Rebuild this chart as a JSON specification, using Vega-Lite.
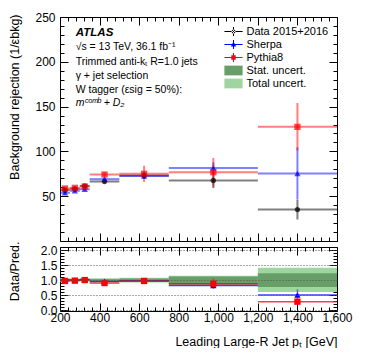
{
  "$schema": "https://vega.github.io/schema/vega-lite/v6.json",
  "padding": {"left": 7, "top": 10, "right": 0, "bottom": 0},
  "background": "white",
  "bounds": "flush",
  "datasets": {
    "main": [
      {"series": "Data 2015+2016", "xc": 225, "x0": 200, "x1": 250, "y": 56.7, "lo": 54.2, "hi": 59.2},
      {"series": "Data 2015+2016", "xc": 275, "x0": 250, "x1": 300, "y": 58.2, "lo": 56.2, "hi": 60.2},
      {"series": "Data 2015+2016", "xc": 325, "x0": 300, "x1": 350, "y": 61.5, "lo": 59.5, "hi": 63.5},
      {"series": "Data 2015+2016", "xc": 425, "x0": 350, "x1": 500, "y": 66.4, "lo": 64.2, "hi": 68.6},
      {"series": "Data 2015+2016", "xc": 625, "x0": 500, "x1": 750, "y": 73.1, "lo": 69.3, "hi": 76.9},
      {"series": "Data 2015+2016", "xc": 975, "x0": 750, "x1": 1200, "y": 67.5, "lo": 59, "hi": 76},
      {"series": "Data 2015+2016", "xc": 1400, "x0": 1200, "x1": 1600, "y": 35.1, "lo": 24, "hi": 46},
      {"series": "Sherpa", "xc": 225, "x0": 200, "x1": 250, "y": 53.7, "lo": 51.8, "hi": 55.6},
      {"series": "Sherpa", "xc": 275, "x0": 250, "x1": 300, "y": 56, "lo": 54.2, "hi": 57.8},
      {"series": "Sherpa", "xc": 325, "x0": 300, "x1": 350, "y": 57.8, "lo": 56, "hi": 59.6},
      {"series": "Sherpa", "xc": 425, "x0": 350, "x1": 500, "y": 69, "lo": 67, "hi": 71},
      {"series": "Sherpa", "xc": 625, "x0": 500, "x1": 750, "y": 72.5, "lo": 70.3, "hi": 74.7},
      {"series": "Sherpa", "xc": 975, "x0": 750, "x1": 1200, "y": 81.6, "lo": 75.5, "hi": 87.7},
      {"series": "Sherpa", "xc": 1400, "x0": 1200, "x1": 1600, "y": 75.4, "lo": 46.3, "hi": 104.5},
      {"series": "Pythia8", "xc": 225, "x0": 200, "x1": 250, "y": 58.6, "lo": 56.8, "hi": 60.4},
      {"series": "Pythia8", "xc": 275, "x0": 250, "x1": 300, "y": 59.3, "lo": 57.5, "hi": 61.1},
      {"series": "Pythia8", "xc": 325, "x0": 300, "x1": 350, "y": 60.8, "lo": 59, "hi": 62.6},
      {"series": "Pythia8", "xc": 425, "x0": 350, "x1": 500, "y": 74.2, "lo": 72, "hi": 76.4},
      {"series": "Pythia8", "xc": 625, "x0": 500, "x1": 750, "y": 75, "lo": 66, "hi": 84},
      {"series": "Pythia8", "xc": 975, "x0": 750, "x1": 1200, "y": 76.8, "lo": 61, "hi": 92.6},
      {"series": "Pythia8", "xc": 1400, "x0": 1200, "x1": 1600, "y": 127.4, "lo": 101, "hi": 154}
    ],
    "ratio": [
      {"series": "Sherpa", "xc": 225, "x0": 200, "x1": 250, "r": 1.0, "rlo": 0.97, "rhi": 1.03},
      {"series": "Sherpa", "xc": 275, "x0": 250, "x1": 300, "r": 1.0, "rlo": 0.97, "rhi": 1.03},
      {"series": "Sherpa", "xc": 325, "x0": 300, "x1": 350, "r": 1.02, "rlo": 0.99, "rhi": 1.05},
      {"series": "Sherpa", "xc": 425, "x0": 350, "x1": 500, "r": 0.95, "rlo": 0.92, "rhi": 0.98},
      {"series": "Sherpa", "xc": 625, "x0": 500, "x1": 750, "r": 0.98, "rlo": 0.95, "rhi": 1.01},
      {"series": "Sherpa", "xc": 975, "x0": 750, "x1": 1200, "r": 0.82, "rlo": 0.75, "rhi": 0.89},
      {"series": "Sherpa", "xc": 1400, "x0": 1200, "x1": 1600, "r": 0.5, "rlo": 0.31, "rhi": 0.69},
      {"series": "Pythia8", "xc": 225, "x0": 200, "x1": 250, "r": 0.97, "rlo": 0.94, "rhi": 1.0},
      {"series": "Pythia8", "xc": 275, "x0": 250, "x1": 300, "r": 0.98, "rlo": 0.95, "rhi": 1.01},
      {"series": "Pythia8", "xc": 325, "x0": 300, "x1": 350, "r": 1.0, "rlo": 0.97, "rhi": 1.03},
      {"series": "Pythia8", "xc": 425, "x0": 350, "x1": 500, "r": 0.9, "rlo": 0.87, "rhi": 0.93},
      {"series": "Pythia8", "xc": 625, "x0": 500, "x1": 750, "r": 0.97, "rlo": 0.88, "rhi": 1.06},
      {"series": "Pythia8", "xc": 975, "x0": 750, "x1": 1200, "r": 0.88, "rlo": 0.7, "rhi": 1.06},
      {"series": "Pythia8", "xc": 1400, "x0": 1200, "x1": 1600, "r": 0.28, "rlo": 0.22, "rhi": 0.34}
    ],
    "bands": [
      {"x0": 200, "x1": 250, "slo": 0.96, "shi": 1.04, "tlo": 0.94, "thi": 1.06},
      {"x0": 250, "x1": 300, "slo": 0.97, "shi": 1.03, "tlo": 0.95, "thi": 1.05},
      {"x0": 300, "x1": 350, "slo": 0.97, "shi": 1.03, "tlo": 0.95, "thi": 1.05},
      {"x0": 350, "x1": 500, "slo": 0.97, "shi": 1.03, "tlo": 0.94, "thi": 1.06},
      {"x0": 500, "x1": 750, "slo": 0.95, "shi": 1.05, "tlo": 0.92, "thi": 1.08},
      {"x0": 750, "x1": 1200, "slo": 0.86, "shi": 1.12, "tlo": 0.83, "thi": 1.14},
      {"x0": 1200, "x1": 1600, "slo": 0.77, "shi": 1.23, "tlo": 0.6, "thi": 1.41}
    ],
    "one": [{"k": 1}]
  },
  "config": {
    "font": "Liberation Sans",
    "view": {"stroke": "black", "strokeWidth": 1},
    "axis": {
      "labelFont": "Liberation Sans", "labelFontSize": 12, "labelColor": "black",
      "titleFont": "Liberation Sans", "titleFontSize": 12.5, "titleFontWeight": "normal", "titleColor": "black",
      "domain": false, "grid": false, "tickColor": "black", "tickWidth": 1
    },
    "legend": {"labelFont": "Liberation Sans", "labelFontSize": 11, "labelColor": "black"}
  },
  "spacing": 6,
  "resolve": {"scale": {"color": "independent", "shape": "independent"}},
  "vconcat": [
    {
      "width": 277,
      "height": 224,
      "resolve": {"axis": {"x": "independent", "y": "independent"}},
      "layer": [
        {
          "data": {"name": "main"},
          "mark": {"type": "rule", "strokeWidth": 2, "strokeOpacity": 0.5},
          "encoding": {
            "x": {"field": "x0", "type": "quantitative", "scale": {"domain": [200, 1600], "nice": false, "zero": false},
                  "axis": {"orient": "bottom", "values": [200, 400, 600, 800, 1000, 1200, 1400, 1600], "labels": false, "ticks": true, "tickSize": -8, "title": null}},
            "x2": {"field": "x1"},
            "y": {"field": "y", "type": "quantitative", "scale": {"domain": [0, 250], "nice": false, "zero": false},
                  "axis": {"orient": "left", "values": [50, 100, 150, 200, 250], "ticks": false, "labelPadding": 5,
                           "title": "Background rejection (1/εbkg)", "titleX": -46, "titleY": -3, "titleAlign": "right", "titleAngle": -90, "titleBaseline": "middle"}},
            "color": {"field": "series", "type": "nominal",
                      "scale": {"domain": ["Data 2015+2016", "Sherpa", "Pythia8", "Stat. uncert.", "Total uncert."], "range": ["#000000", "#0000ff", "#ff0000", "#689f68", "#a0d4a0"]}}
          }
        },
        {
          "data": {"name": "main"},
          "mark": {"type": "rule", "strokeWidth": 2, "strokeOpacity": 0.5},
          "encoding": {
            "x": {"field": "xc", "type": "quantitative",
                  "axis": {"orient": "top", "values": [200, 400, 600, 800, 1000, 1200, 1400, 1600], "labels": false, "tickSize": -8, "title": null}},
            "y": {"field": "lo", "type": "quantitative",
                  "axis": {"orient": "right", "values": [0, 50, 100, 150, 200, 250], "labels": false, "tickSize": -8, "title": null}},
            "y2": {"field": "hi"},
            "color": {"field": "series", "type": "nominal"}
          }
        },
        {
          "data": {"name": "main"},
          "transform": [{"filter": "datum.series === 'Data 2015+2016'"}],
          "mark": {"type": "point", "shape": "circle", "filled": true, "size": 28},
          "encoding": {
            "x": {"field": "xc", "type": "quantitative",
                  "axis": {"orient": "bottom", "values": [240, 280, 320, 360, 440, 480, 520, 560, 640, 680, 720, 760, 840, 880, 920, 960, 1040, 1080, 1120, 1160, 1240, 1280, 1320, 1360, 1440, 1480, 1520, 1560], "labels": false, "tickSize": -4, "title": null}},
            "y": {"field": "y", "type": "quantitative",
                  "axis": {"orient": "left", "values": [10, 20, 30, 40, 60, 70, 80, 90, 110, 120, 130, 140, 160, 170, 180, 190, 210, 220, 230, 240], "labels": false, "tickSize": -4, "title": null}},
            "color": {"field": "series", "type": "nominal"}
          }
        },
        {
          "data": {"name": "main"},
          "transform": [{"filter": "datum.series === 'Sherpa'"}],
          "mark": {"type": "point", "shape": "triangle-up", "filled": true, "size": 40},
          "encoding": {
            "x": {"field": "xc", "type": "quantitative",
                  "axis": {"orient": "top", "values": [240, 280, 320, 360, 440, 480, 520, 560, 640, 680, 720, 760, 840, 880, 920, 960, 1040, 1080, 1120, 1160, 1240, 1280, 1320, 1360, 1440, 1480, 1520, 1560], "labels": false, "tickSize": -4, "title": null}},
            "y": {"field": "y", "type": "quantitative",
                  "axis": {"orient": "right", "values": [10, 20, 30, 40, 60, 70, 80, 90, 110, 120, 130, 140, 160, 170, 180, 190, 210, 220, 230, 240], "labels": false, "tickSize": -4, "title": null}},
            "color": {"field": "series", "type": "nominal"}
          }
        },
        {
          "data": {"name": "main"},
          "transform": [{"filter": "datum.series === 'Pythia8'"}],
          "mark": {"type": "point", "shape": "square", "filled": true, "size": 40},
          "encoding": {
            "x": {"field": "xc", "type": "quantitative", "axis": null},
            "y": {"field": "y", "type": "quantitative",
                  "axis": {"orient": "left", "values": [0, 50, 100, 150, 200, 250], "labels": false, "tickSize": -8, "title": null}},
            "color": {"field": "series", "type": "nominal"}
          }
        },
        {
          "data": {"name": "one"},
          "mark": {"type": "text", "text": "ATLAS", "fontSize": 11.5, "fontWeight": "bold", "fontStyle": "italic", "align": "left", "baseline": "middle", "font": "Liberation Sans"},
          "encoding": {"x": {"datum": 280, "type": "quantitative", "axis": null}, "y": {"datum": 232, "type": "quantitative", "axis": null}}
        },
        {
          "data": {"name": "one"},
          "mark": {"type": "text", "text": "√s = 13 TeV, 36.1 fb⁻¹", "fontSize": 10.5, "align": "left", "baseline": "middle", "font": "Liberation Sans"},
          "encoding": {"x": {"datum": 279, "type": "quantitative", "axis": null}, "y": {"datum": 216, "type": "quantitative", "axis": null}}
        },
        {
          "data": {"name": "one"},
          "mark": {"type": "text", "text": "Trimmed anti-kₜ R=1.0 jets", "fontSize": 10.5, "align": "left", "baseline": "middle", "font": "Liberation Sans"},
          "encoding": {"x": {"datum": 279, "type": "quantitative", "axis": null}, "y": {"datum": 200, "type": "quantitative", "axis": null}}
        },
        {
          "data": {"name": "one"},
          "mark": {"type": "text", "text": "γ + jet selection", "fontSize": 10.5, "align": "left", "baseline": "middle", "font": "Liberation Sans"},
          "encoding": {"x": {"datum": 279, "type": "quantitative", "axis": null}, "y": {"datum": 184, "type": "quantitative", "axis": null}}
        },
        {
          "data": {"name": "one"},
          "mark": {"type": "text", "text": "W tagger (εsig = 50%):", "fontSize": 10.5, "align": "left", "baseline": "middle", "font": "Liberation Sans"},
          "encoding": {"x": {"datum": 279, "type": "quantitative", "axis": null}, "y": {"datum": 168.5, "type": "quantitative", "axis": null}}
        },
        {
          "data": {"name": "one"},
          "mark": {"type": "text", "text": "mᶜᵒᵐᵇ + D₂", "fontSize": 10.5, "fontStyle": "italic", "align": "left", "baseline": "middle", "font": "Liberation Sans"},
          "encoding": {"x": {"datum": 279, "type": "quantitative", "axis": null}, "y": {"datum": 154, "type": "quantitative", "axis": null}}
        },
        {
          "data": {"values": [{"series": "Data 2015+2016"}]},
          "transform": [{"filter": "false"}],
          "mark": {"type": "point", "filled": true},
          "encoding": {
            "x": {"field": "xc", "type": "quantitative", "axis": null},
            "y": {"field": "y", "type": "quantitative", "axis": null},
            "color": {"field": "series", "type": "nominal",
                      "legend": {"orient": "top-right", "offset": 8, "title": null, "symbolSize": 169, "symbolOpacity": 1, "rowPadding": 1, "labelOffset": 6.5, "symbolStrokeWidth": 0, "padding": 0,
                                 "encode": {"symbols": {"update": {"opacity": {"value": 1}, "fillOpacity": {"value": 1}}}}}},
            "shape": {"field": "series", "type": "nominal",
                      "scale": {"domain": ["Data 2015+2016", "Sherpa", "Pythia8", "Stat. uncert.", "Total uncert."],
                                "range": [
                                  "M-1.4,-0.08H1.4V0.08H-1.4Z M-0.08,-0.7H0.08V0.7H-0.08Z M-0.3,0A0.3,0.3 0 1,0 0.3,0A0.3,0.3 0 1,0 -0.3,0Z",
                                  "M-1.4,-0.08H1.4V0.08H-1.4Z M-0.08,-0.7H0.08V0.7H-0.08Z M0,-0.45L0.4,0.3H-0.4Z",
                                  "M-1.4,-0.08H1.4V0.08H-1.4Z M-0.08,-0.7H0.08V0.7H-0.08Z M-0.34,-0.34H0.34V0.34H-0.34Z",
                                  "M-1.4,-0.75H1.4V0.75H-1.4Z",
                                  "M-1.4,-0.75H1.4V0.75H-1.4Z"]},
                      "legend": {"orient": "top-right", "offset": 8, "title": null, "symbolSize": 169, "symbolOpacity": 1, "rowPadding": 1, "labelOffset": 6.5, "symbolStrokeWidth": 0, "padding": 0,
                                 "encode": {"symbols": {"update": {"opacity": {"value": 1}, "fillOpacity": {"value": 1}}}}}}
          }
        }
      ]
    },
    {
      "width": 277,
      "height": 64,
      "resolve": {"axis": {"x": "independent", "y": "independent"}},
      "layer": [
        {
          "data": {"name": "bands"},
          "mark": {"type": "rect", "color": "#a0d4a0"},
          "encoding": {
            "x": {"field": "x0", "type": "quantitative", "scale": {"domain": [200, 1600], "nice": false, "zero": false},
                  "axis": {"orient": "bottom", "values": [200, 400, 600, 800, 1000, 1200, 1400, 1600], "ticks": false, "labelPadding": 1, "labelFlush": false,
                           "title": "Leading Large-R Jet pₜ [GeV]", "titleX": 277, "titleY": 30, "titleAlign": "right", "titleBaseline": "middle"}},
            "x2": {"field": "x1"},
            "y": {"field": "tlo", "type": "quantitative", "scale": {"domain": [-0.03, 2.1], "nice": false, "zero": false},
                  "axis": {"orient": "left", "values": [0, 0.5, 1, 1.5, 2], "ticks": false, "labelPadding": 3, "grid": true, "gridDash": [1, 2], "gridColor": "#555555", "gridWidth": 1, "zindex": 1,
                           "title": "Data/Pred.", "titleX": -46, "titleY": -6, "titleAlign": "right", "titleAngle": -90, "titleBaseline": "middle"}},
            "y2": {"field": "thi"}
          }
        },
        {
          "data": {"name": "bands"},
          "mark": {"type": "rect", "color": "#689f68"},
          "encoding": {
            "x": {"field": "x0", "type": "quantitative",
                  "axis": {"orient": "top", "values": [200, 400, 600, 800, 1000, 1200, 1400, 1600], "labels": false, "tickSize": -8, "title": null}},
            "x2": {"field": "x1"},
            "y": {"field": "slo", "type": "quantitative",
                  "axis": {"orient": "right", "values": [0, 0.5, 1, 1.5, 2], "labels": false, "tickSize": -8, "title": null}},
            "y2": {"field": "shi"}
          }
        },
        {
          "data": {"name": "ratio"},
          "mark": {"type": "rule", "strokeWidth": 1.5, "opacity": 0.75},
          "encoding": {
            "x": {"field": "x0", "type": "quantitative",
                  "axis": {"orient": "bottom", "values": [240, 280, 320, 360, 440, 480, 520, 560, 640, 680, 720, 760, 840, 880, 920, 960, 1040, 1080, 1120, 1160, 1240, 1280, 1320, 1360, 1440, 1480, 1520, 1560], "labels": false, "tickSize": -4, "title": null}},
            "x2": {"field": "x1"},
            "y": {"field": "r", "type": "quantitative",
                  "axis": {"orient": "left", "values": [0.1, 0.2, 0.3, 0.4, 0.6, 0.7, 0.8, 0.9, 1.1, 1.2, 1.3, 1.4, 1.6, 1.7, 1.8, 1.9], "labels": false, "tickSize": -4, "title": null}},
            "color": {"field": "series", "type": "nominal", "scale": {"domain": ["Sherpa", "Pythia8"], "range": ["#0000ff", "#ff0000"]}, "legend": null}
          }
        },
        {
          "data": {"name": "ratio"},
          "mark": {"type": "rule", "strokeWidth": 1.5, "opacity": 0.5},
          "encoding": {
            "x": {"field": "xc", "type": "quantitative",
                  "axis": {"orient": "top", "values": [240, 280, 320, 360, 440, 480, 520, 560, 640, 680, 720, 760, 840, 880, 920, 960, 1040, 1080, 1120, 1160, 1240, 1280, 1320, 1360, 1440, 1480, 1520, 1560], "labels": false, "tickSize": -4, "title": null}},
            "y": {"field": "rlo", "type": "quantitative",
                  "axis": {"orient": "right", "values": [0.1, 0.2, 0.3, 0.4, 0.6, 0.7, 0.8, 0.9, 1.1, 1.2, 1.3, 1.4, 1.6, 1.7, 1.8, 1.9], "labels": false, "tickSize": -4, "title": null}},
            "y2": {"field": "rhi"},
            "color": {"field": "series", "type": "nominal", "legend": null}
          }
        },
        {
          "data": {"name": "ratio"},
          "mark": {"type": "point", "filled": true, "size": 40, "opacity": 1},
          "encoding": {
            "x": {"field": "xc", "type": "quantitative",
                  "axis": {"orient": "bottom", "values": [200, 400, 600, 800, 1000, 1200, 1400, 1600], "labels": false, "tickSize": -8, "title": null}},
            "y": {"field": "r", "type": "quantitative",
                  "axis": {"orient": "left", "values": [0, 0.5, 1, 1.5, 2], "labels": false, "tickSize": -8, "title": null}},
            "color": {"field": "series", "type": "nominal", "legend": null},
            "shape": {"field": "series", "type": "nominal", "scale": {"domain": ["Sherpa", "Pythia8"], "range": ["triangle-up", "square"]}, "legend": null}
          }
        }
      ]
    }
  ]
}
